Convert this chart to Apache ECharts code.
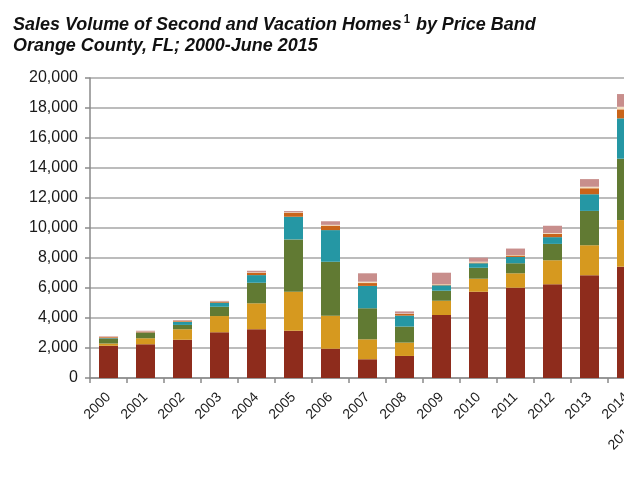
<!DOCTYPE html>
<html>
<head>
<meta charset="utf-8">
<script src="https://cdn.jsdelivr.net/npm/echarts@6/dist/echarts.min.js"></script>
<style>
html,body{margin:0;padding:0;background:#fff;}
#chart{width:624px;height:500px;}
</style>
</head>
<body>
<div id="chart"></div>
<script>
// Categories (x axis)
const years = ['2000','2001','2002','2003','2004','2005','2006','2007','2008','2009','2010','2011','2012','2013','2014','2015 (June)'];
// Series values (stacked, bottom to top); 2015 is outside the visible area
const band1 = [2150, 2250, 2550, 3050, 3250, 3150, 1950, 1250, 1470, 4200, 5750, 6020, 6250, 6850, 7420, null];
const band2 = [150, 400, 700, 1080, 1730, 2600, 2200, 1330, 890, 950, 870, 960, 1600, 2000, 3110, null];
const band3 = [300, 350, 290, 620, 1370, 3490, 3600, 2070, 1070, 670, 730, 670, 1090, 2290, 4090, null];
const band4 = [50, 30, 200, 270, 510, 1510, 2110, 1490, 730, 360, 300, 420, 450, 1110, 2690, null];
const band5 = [70, 60, 50, 60, 150, 270, 300, 190, 110, 50, 50, 100, 220, 400, 600, null];
const band6 = [10, 10, 10, 10, 30, 30, 50, 90, 30, 30, 50, 30, 50, 100, 170, null];
const band7 = [40, 50, 50, 50, 110, 80, 240, 560, 140, 760, 270, 430, 490, 510, 850, null];
// Tick labels (y axis)
const yMin = 0, yMax = 20000, yStep = 2000;
const titleLine1 = 'Sales Volume of Second and Vacation Homes';
const titleSup = '1';
const titleLine1b = ' by Price Band';
const titleLine2 = 'Orange County, FL; 2000-June 2015';

const names = ['Band 1','Band 2','Band 3','Band 4','Band 5','Band 6','Band 7'];
const colors = ['#8E2C1C','#D6991F','#617A33','#2597A4','#C9641A','#F3DEC0','#C88E8C'];
const data = [band1, band2, band3, band4, band5, band6, band7];

const tFont = 'Liberation Sans, Arial, sans-serif';
const chart = echarts.init(document.getElementById('chart'), null, {renderer:'canvas'});
chart.setOption({
  animation: false,
  backgroundColor: '#fff',
  graphic: [{
    type: 'text', left: 13, top: 14, scaleX: 0.945, z: 10,
    style: {
      text: titleLine1 + '{sup|' + titleSup + '}' + titleLine1b + '\n' + titleLine2,
      font: 'italic bold 19px ' + tFont, fill: '#111', lineHeight: 21,
      rich: {sup: {font: 'bold 12px ' + tFont, fill: '#111', verticalAlign: 'top', padding: [0,1,9,2]}}
    }
  }],
  grid: {left: 90, top: 78, height: 300, width: 592, containLabel: false, outerBoundsMode: 'none'},
  xAxis: {
    type: 'category', data: years,
    axisLine: {show: true, lineStyle: {color: '#8a8a8a', width: 1.5}},
    axisTick: {show: true, length: 5, lineStyle: {color: '#8a8a8a', width: 1.5}},
    axisLabel: {rotate: 45, fontSize: 14, color: '#1a1a1a', fontFamily: tFont, margin: 17, interval: 0}
  },
  yAxis: {
    type: 'value', min: yMin, max: yMax, interval: yStep,
    axisLine: {show: true, lineStyle: {color: '#8a8a8a', width: 1.5}},
    axisTick: {show: true, length: 5, lineStyle: {color: '#8a8a8a', width: 1.5}},
    splitLine: {show: true, lineStyle: {color: '#a6a6a6', width: 1.5}},
    axisLabel: {fontSize: 16, color: '#1a1a1a', fontFamily: tFont, margin: 12,
      formatter: v => v.toLocaleString('en-US')}
  },
  series: data.map((d, i) => ({
    name: names[i], type: 'bar', stack: 'total', data: d, barWidth: 19,
    itemStyle: {color: colors[i]}
  }))
});
</script>
</body>
</html>
